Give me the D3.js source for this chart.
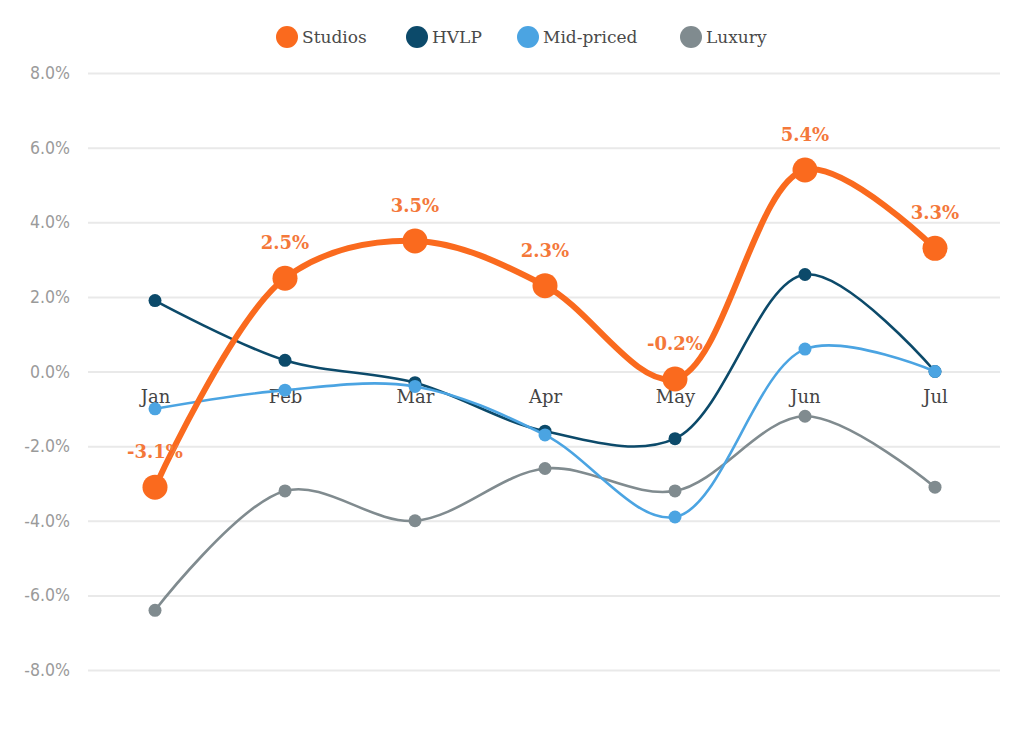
<!DOCTYPE html>
<html>
<head>
<meta charset="utf-8">
<script src="https://cdn.jsdelivr.net/npm/d3@7"></script>
<style>
  body { margin: 0; background: #fff; }
  svg { display: block; }
</style>
</head>
<body>
<svg id="chart" width="1024" height="735"></svg>
<script>
// data
const months = ["Jan", "Feb", "Mar", "Apr", "May", "Jun", "Jul"]
const studios = [-3.1, 2.5, 3.5, 2.3, -0.2, 5.4, 3.3]
const hvlp = [1.9, 0.3, -0.3, -1.6, -1.8, 2.6, 0.0]
const midPriced = [-1.0, -0.5, -0.4, -1.7, -3.9, 0.6, 0.0]
const luxury = [-6.4, -3.2, -4.0, -2.6, -3.2, -1.2, -3.1]
const yTicks = [-8, -6, -4, -2, 0, 2, 4, 6, 8]

const series = [
  { name: "Studios", values: studios, color: "#fa6a1e", width: 6, r: 12.5, labels: true },
  { name: "HVLP", values: hvlp, color: "#0c4a6a", width: 2.6, r: 6.5 },
  { name: "Mid-priced", values: midPriced, color: "#4ba4e2", width: 2.6, r: 6.5 },
  { name: "Luxury", values: luxury, color: "#808b8f", width: 2.6, r: 6.5 },
]
// paint order: luxury under, then HVLP, mid-priced, studios on top
const drawOrder = [3, 1, 2, 0]

const svg = d3.select("#chart")
const serif = "'DejaVu Serif', 'Liberation Serif', serif"
const sans = "'DejaVu Sans Condensed', 'Liberation Sans Narrow', 'Liberation Sans', sans-serif"

const x = d3.scalePoint().domain(months).range([155, 935])
const y = d3.scaleLinear().domain([-8, 8]).range([670, 73])

// grid + y labels
const yAxis = svg.append("g")
  .attr("transform", "translate(88,0)")
  .call(d3.axisLeft(y).tickValues(yTicks).tickSize(-912).tickFormat(d => d.toFixed(1) + "%"))
yAxis.select(".domain").remove()
yAxis.selectAll(".tick line").attr("stroke", "#e9e9e9").attr("stroke-width", 2)
yAxis.selectAll(".tick text")
  .attr("x", -18)
  .attr("fill", "#9a9a9a")
  .style("font-family", sans)
  .style("font-size", "17.5px")

// month labels sit just under the zero line
const xAxis = svg.append("g")
  .attr("transform", `translate(0,${y(0)})`)
  .call(d3.axisBottom(x).tickSize(0).tickPadding(19))
xAxis.select(".domain").remove()
xAxis.selectAll(".tick text")
  .attr("fill", "#444")
  .style("font-family", serif)
  .style("font-size", "18px")

const line = d3.line()
  .x((d, i) => x(months[i]))
  .y(d => y(d))
  .curve(d3.curveCatmullRom.alpha(0.5))

drawOrder.forEach(k => {
  const s = series[k]
  const g = svg.append("g")
  g.append("path")
    .attr("d", line(s.values))
    .attr("fill", "none")
    .attr("stroke", s.color)
    .attr("stroke-width", s.width)
    .attr("stroke-linejoin", "round")
  g.selectAll("circle")
    .data(s.values)
    .join("circle")
    .attr("cx", (d, i) => x(months[i]))
    .attr("cy", d => y(d))
    .attr("r", s.r)
    .attr("fill", s.color)
  if (s.labels) {
    g.selectAll("text")
      .data(s.values)
      .join("text")
      .attr("x", (d, i) => x(months[i]))
      .attr("y", d => y(d) - 29)
      .attr("text-anchor", "middle")
      .attr("fill", "#f4783a")
      .style("font-family", serif)
      .style("font-weight", "bold")
      .style("font-size", "18px")
      .text(d => d.toFixed(1) + "%")
  }
})

// legend
const legendX = [287, 417, 528, 691]
const legend = svg.append("g")
series.forEach((s, i) => {
  const item = legend.append("g").attr("transform", `translate(${legendX[i]},37)`)
  item.append("circle").attr("r", 11).attr("fill", s.color)
  item.append("text")
    .attr("x", 15)
    .attr("dy", "0.35em")
    .attr("fill", "#4a4a4a")
    .style("font-family", serif)
    .style("font-size", "17px")
    .text(s.name)
})
</script>
</body>
</html>
